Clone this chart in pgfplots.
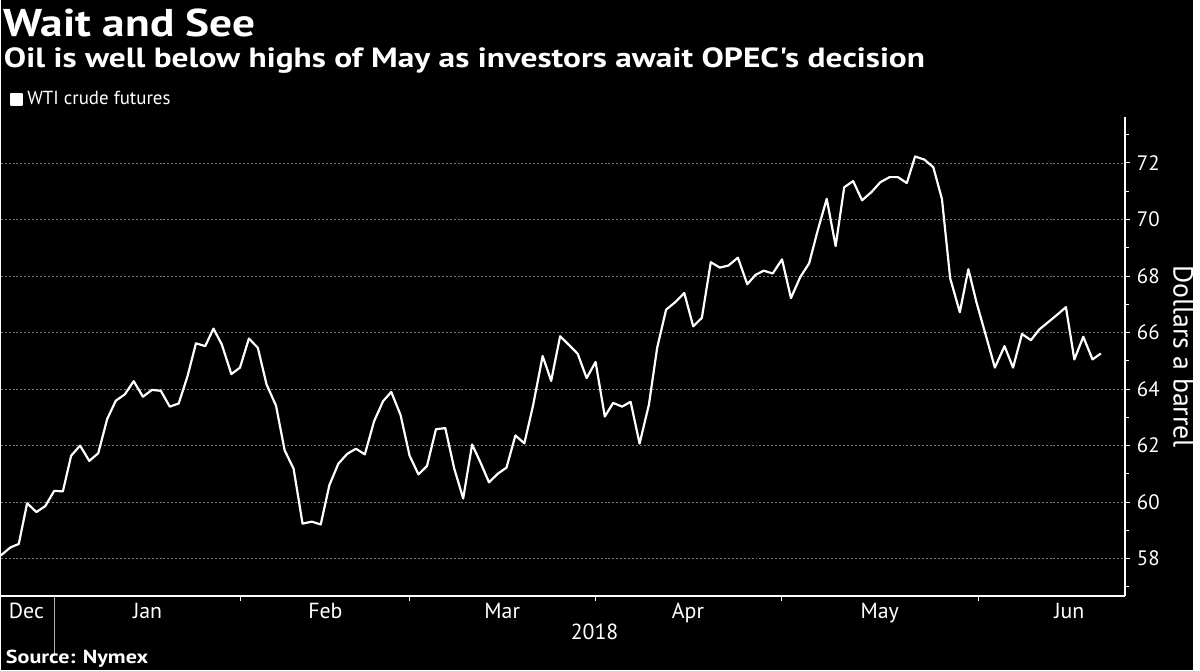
\documentclass[border=0pt]{standalone}
\usepackage{pgfplots}
\pgfplotsset{compat=1.18}
\usepackage{pgfplotstable}
\usepackage{fontspec}
\setmainfont{PT Sans}
\setsansfont{PT Sans}
\newfontfamily\widefont[FakeStretch=1.17]{PT Sans}
\newfontfamily\subfont[FakeStretch=1.2]{PT Sans}

\definecolor{gridgray}{HTML}{7A7A7A}
\definecolor{sepgray}{HTML}{B0B0B0}

% WTI crude futures, x in chart pixels (trading days), y in dollars
\pgfplotstableread{
x y
0 58.11
10 58.40
18.3 58.52
26.7 59.96
36 59.65
45 59.86
54 60.40
62.7 60.38
71 61.64
80 62.00
89.3 61.46
98.3 61.73
107.3 62.94
116 63.59
125 63.81
134 64.28
143.3 63.73
152.3 63.97
161.3 63.94
170.3 63.38
179.3 63.49
188.3 64.47
196.7 65.62
206 65.52
214.3 66.14
222.7 65.58
232.3 64.53
241 64.76
250 65.79
259 65.46
267.7 64.17
277.3 63.41
286 61.83
295 61.18
304 59.24
313.3 59.31
322.3 59.21
331 60.60
340 61.36
349 61.71
357.7 61.89
366.7 61.69
376 62.86
385 63.57
393.3 63.90
402.7 63.08
411.7 61.65
420.7 60.98
429.3 61.28
438.3 62.58
447.7 62.62
456.7 61.19
465.7 60.13
474.7 62.04
483.3 61.39
491.7 60.70
500.7 61.01
509.3 61.22
518.3 62.36
527.3 62.08
536 63.41
545.7 65.17
554.3 64.29
563.3 65.87
572.3 65.56
581 65.25
590 64.39
599 64.96
608.3 63.03
616.7 63.51
625.7 63.38
634.3 63.55
643.3 62.07
652.7 63.45
661 65.46
670 66.81
679 67.07
688.3 67.40
697.3 66.22
706 66.52
715 68.49
724 68.30
732.7 68.37
742.3 68.65
751.7 67.71
760 68.04
768.3 68.19
777.3 68.09
786.7 68.59
795.7 67.22
805 67.96
814 68.45
822.7 69.62
831.7 70.73
840.7 69.06
849.3 71.14
858.3 71.36
867.3 70.68
876.7 70.97
885.7 71.32
895 71.50
903.3 71.50
912.3 71.29
920.7 72.23
930 72.12
939 71.85
947.7 70.73
956 67.92
965.7 66.72
974.3 68.24
982.7 67.04
992.3 65.85
1001 64.76
1010.7 65.52
1019.3 64.76
1028.3 65.95
1037.3 65.73
1045.7 66.11
1054.7 66.37
1063.7 66.63
1072.5 66.90
1081 65.05
1090 65.85
1099.3 65.05
1107.7 65.26
}\wti

\begin{document}
\begin{tikzpicture}[x=0.5pt,y=0.5pt]
    % canvas 1200 x 675 px, y measured from the bottom
    \fill[black] (0,0) rectangle (1200,675);
    \coordinate (plotorigin) at (0,75);

    \begin{axis}[
            at={(plotorigin)}, anchor=south west,
            scale only axis,
            width=566pt, height=241pt,
            xmin=0, xmax=1132,
            ymin=56.68, ymax=73.62,
            axis x line=bottom, axis y line=right,
            axis line style={white, line width=0.6pt, -},
            tick align=outside,
            tick style={white, line width=0.5pt},
            major tick length=2.5pt,
            minor tick length=2pt,
            xtick={54.7,241.9,411.8,599,786,984},
            xticklabels={},
            extra x ticks={26,148,327,505,692,885,1076},
            extra x tick labels={Dec,Jan,Feb,Mar,Apr,May,Jun},
            extra x tick style={major tick length=0pt, grid=none},
            ytick={58,60,...,72},
            minor ytick={57,59,...,73},
            ymajorgrids=true,
            grid style={gridgray, line width=0.4pt, dash pattern=on 1pt off 1pt},
            tick label style={text=white, /pgf/number format/assume math mode=true},
            xticklabel style={font=\fontsize{11}{13}\selectfont},
            yticklabel style={font=\fontsize{10.5}{12}\selectfont},
            ylabel={Dollars a barrel},
            ylabel style={text=white, rotate=180, font=\fontsize{14}{16}\selectfont},
            legend style={
                    at={(rel axis cs:0.008,1.037)}, anchor=west,
                    draw=none, fill=none, text=white,
                    font=\fontsize{9.5}{11}\selectfont,
                    inner sep=0pt,
                    /tikz/every even column/.append style={column sep=1.5pt},
                },
            legend cell align=left,
        ]
        \addplot[white, line width=1.1pt, line join=round,
            legend image code/.code={\fill[white] (0pt,-2.8pt) rectangle (5.6pt,2.8pt);}]
            table[x=x, y=y] {\wti};
        \addlegendentry{WTI crude futures}
    \end{axis}

    % title block
    \node[anchor=base west, inner sep=0pt, text=white, font=\widefont\bfseries\fontsize{19.5}{22}\selectfont] at (3,638) {Wait and See};
    \node[anchor=base west, inner sep=0pt, text=white, font=\subfont\bfseries\fontsize{14}{16}\selectfont] at (3,607) {Oil is well below highs of May as investors await OPEC's decision};

    % year separator and year
    \draw[sepgray, line width=0.5pt] (54.7,75) -- (54.7,15);
    \node[anchor=base, inner sep=0pt, text=white, font=\fontsize{11}{13}\selectfont] at (598,31) {2018};

    \node[anchor=base west, inner sep=0pt, text=white, font=\widefont\bfseries\fontsize{9.5}{11}\selectfont] at (5,7) {Source: Nymex};
\end{tikzpicture}
\end{document}
